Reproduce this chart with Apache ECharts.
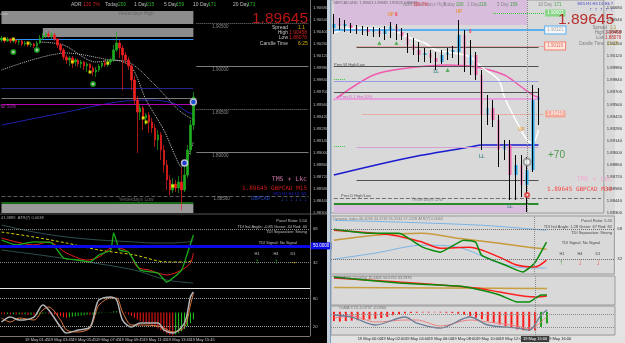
<!DOCTYPE html>
<html>
<head>
<meta charset="utf-8">
<title>GBPCAD M15 / M30</title>
<script src="https://cdn.jsdelivr.net/npm/echarts@6/dist/echarts.min.js"></script>
<style>
  html, body { margin: 0; padding: 0; background: #000; }
  #chart { width: 625px; height: 343px; }
</style>
</head>
<body>
<div id="chart"></div>
<script>
// ---------- left window: GBPCAD M15, [open, close, low, high]
var m15Bars = [
  [1.90306,1.90329,1.90283,1.90353],[1.90329,1.90295,1.90271,1.90341],[1.90295,1.90318,1.90283,1.90341],
  [1.90318,1.90295,1.90271,1.90329],[1.90295,1.90306,1.90271,1.90329],[1.90306,1.90283,1.90260,1.90318],
  [1.90283,1.90295,1.90248,1.90318],[1.90295,1.90260,1.90237,1.90306],[1.90260,1.90271,1.90237,1.90295],
  [1.90271,1.90248,1.90225,1.90283],[1.90248,1.90260,1.90225,1.90283],[1.90260,1.90237,1.90213,1.90271],
  [1.90237,1.90271,1.90225,1.90295],[1.90271,1.90329,1.90260,1.90364],[1.90329,1.90353,1.90306,1.90387],
  [1.90353,1.90376,1.90329,1.90399],[1.90376,1.90353,1.90329,1.90410],[1.90353,1.90364,1.90318,1.90399],
  [1.90364,1.90318,1.90295,1.90387],[1.90318,1.90248,1.90213,1.90329],[1.90248,1.90190,1.90155,1.90271],
  [1.90190,1.90109,1.90074,1.90213],[1.90109,1.90074,1.90028,1.90132],[1.90074,1.90097,1.90005,1.90121],
  [1.90097,1.90051,1.89981,1.90121],[1.90051,1.90074,1.90005,1.90097],[1.90074,1.90028,1.89993,1.90086],
  [1.90028,1.90051,1.89981,1.90074],[1.90051,1.90005,1.89958,1.90063],[1.90005,1.90028,1.89935,1.90051],
  [1.90028,1.89981,1.89923,1.90039],[1.89981,1.89935,1.89889,1.90005],[1.89935,1.89958,1.89877,1.89993],
  [1.89958,1.90005,1.89935,1.90028],[1.90005,1.90039,1.89981,1.90063],[1.90039,1.90016,1.89993,1.90074],
  [1.90016,1.90051,1.89993,1.90086],[1.90051,1.90074,1.90016,1.90097],[1.90074,1.90190,1.90051,1.90248],
  [1.90190,1.90271,1.90167,1.90399],[1.90271,1.90213,1.90097,1.90306],[1.90213,1.90132,1.89726,1.90248],
  [1.90132,1.90074,1.90028,1.90167],[1.90074,1.90005,1.89958,1.90109],[1.90005,1.89842,1.89726,1.90028],
  [1.89842,1.89610,1.89552,1.89889],[1.89610,1.89471,1.88996,1.89657],[1.89471,1.89518,1.89378,1.89564],
  [1.89518,1.89402,1.89262,1.89541],[1.89402,1.89437,1.89320,1.89460],[1.89437,1.89355,1.89228,1.89471],
  [1.89355,1.89286,1.89228,1.89402],[1.89286,1.89146,1.89065,1.89332],[1.89146,1.89204,1.89030,1.89262],
  [1.89204,1.89030,1.88914,1.89239],[1.89030,1.88857,1.88764,1.89088],[1.88857,1.88683,1.88567,1.88914],
  [1.88683,1.88567,1.88509,1.88741],[1.88567,1.88636,1.88532,1.88706],[1.88636,1.88590,1.88543,1.88683],
  [1.88590,1.88659,1.88532,1.88729],[1.88659,1.88567,1.88335,1.88822],[1.88567,1.88741,1.88543,1.88857],
  [1.88741,1.89030,1.88706,1.89088],[1.89030,1.89320,1.88972,1.89378],[1.89320,1.89645,1.89262,1.89703]
];
var m15Slots = 105;   // bars plus the empty shift space
var m15Ma200 = [[0,1.89320],[22,1.89471],[39,1.89587],[50,1.89610],[58,1.89576],[63,1.89471],[65,1.89448]];
var m15MaSlow = [[0,1.89958],[22,1.90155],[37,1.90074],[43,1.90051],[52,1.89784],[60,1.89494],[65,1.89378]];
var m15MaFast = [[13,1.90283],[21,1.90248],[32,1.90051],[38,1.90074],[44,1.89993],[49,1.89610],[55,1.89262],[59,1.88949],[61,1.88833],[63,1.88938],[65,1.89123]];
var m15YestHigh = [1.90642, 1.90492];
var m15YestHigh2 = [1.90445, 1.90341];
var m15YestLow = [1.88404, 1.88300];
var m15Lines = [1.90318, 1.89750, 1.89634, 1.89564, 1.88416];
var m15Round = [1.9050, 1.9000, 1.8950, 1.8900, 1.8850];
var m15Dots = [[1,1.90318],[4,1.90318],[9,1.90271],[24,1.90051],[30,1.89935],[36,1.90039],[48,1.89402],[49,1.89355],[58,1.88613]];
var m15Rings = [[4,1.90167],[12,1.90190],[31,1.89796]];
var m15Circles = [[62,1.88880],[65,1.89587]];
var bid = 1.89645;

// left TDI pane
var tdiBandUp = [[0,72.3],[11,64.8],[22,59.5],[33,56.3],[45,54.2],[51,53.1],[58,53.1],[63,54.2],[65,55.2]];
var tdiBandDn = [[0,45.6],[13,40.3],[29,32.8],[45,24.2],[56,13.5],[65,10.3]];
var tdiMbl = [[0,64.8],[11,59.5],[22,53.1],[33,45.6],[45,40.3],[56,32.8],[63,32.8],[65,34.9]];
var tdiSignal = [[0,58.4],[5,54.2],[11,51],[16,54.2],[22,42.4],[29,34.9],[33,38.1],[38,48.8],[43,43.5],[46,27.4],[50,24.2],[56,18.9],[61,24.2],[64,31.7],[65,42.4]];
var tdiRsi = [[0,56.3],[5,51],[11,54.2],[17,53.1],[21,37.1],[26,34.9],[30,32.8],[33,40.3],[37,45.6],[38,63.8],[40,45.6],[43,43.5],[47,24.2],[53,21],[56,11.4],[61,24.2],[63,42.4],[65,61.6]];

// left stochastic + OsMA pane
var stochMain = [[0,29.8],[3,40.4],[6,34],[11,40.4],[14,66],[16,55.3],[20,19.1],[22,6.4],[26,12.8],[30,19.1],[32,61.7],[33,76.6],[37,83],[39,76.6],[41,34],[44,19.1],[47,27.7],[53,27.7],[55,12.8],[58,6.4],[62,27.7],[64,83],[65,93.6]];
var stochSignal = [[0,38.3],[3,29.8],[6,38.3],[11,34],[14,55.3],[16,61.7],[20,34],[22,12.8],[26,8.5],[30,17],[32,51],[33,66],[37,80.9],[39,80.9],[41,51],[44,23.4],[47,23.4],[53,21.3],[55,17],[58,8.5],[62,19.1],[64,66],[65,91.5]];
var m15Osma = [-0.05,-0.07,-0.06,-0.08,-0.07,-0.09,-0.08,-0.10,-0.09,-0.11,
  -0.10,-0.12,-0.10,-0.07,-0.05,-0.03,-0.04,-0.05,-0.08,-0.12,
  -0.16,-0.20,-0.22,-0.20,-0.18,-0.16,-0.15,-0.13,-0.12,-0.10,
  -0.10,-0.08,-0.05,-0.03,-0.02,-0.01,0.01,0.02,0.04,0.05,
  0.03,0.00,-0.04,-0.08,-0.14,-0.22,-0.30,-0.36,-0.42,-0.46,
  -0.50,-0.56,-0.62,-0.68,-0.75,-0.82,-0.90,-0.96,-0.98,-0.94,
  -0.88,-0.80,-0.70,-0.58,-0.45,-0.30];

// ---------- right window: GBPCAD M30
var m30Bars = [
  [1.90445,1.90492,1.90376,1.90608],[1.90492,1.90468,1.90422,1.90561],[1.90468,1.90492,1.90399,1.90538],
  [1.90480,1.90445,1.90387,1.90503],[1.90445,1.90422,1.90376,1.90480],[1.90422,1.90434,1.90364,1.90468],
  [1.90434,1.90399,1.90353,1.90457],[1.90399,1.90410,1.90341,1.90457],[1.90410,1.90376,1.90341,1.90445],
  [1.90376,1.90422,1.90306,1.90468],[1.90422,1.90468,1.90329,1.90515],[1.90468,1.90399,1.90306,1.90492],
  [1.90399,1.90353,1.90306,1.90445],[1.90353,1.90248,1.90155,1.90387],[1.90248,1.90190,1.90132,1.90329],
  [1.90190,1.90132,1.90051,1.90283],[1.90132,1.90155,1.90051,1.90213],[1.90155,1.90097,1.90039,1.90190],
  [1.90097,1.90051,1.89958,1.90167],[1.90051,1.90132,1.90028,1.90190],[1.90132,1.90167,1.90074,1.90213],
  [1.90167,1.90190,1.90097,1.90237],[1.90167,1.90364,1.90016,1.90538],[1.90364,1.90016,1.89935,1.90422],
  [1.90016,1.90132,1.89900,1.90306],[1.90132,1.89900,1.89842,1.90167],[1.89900,1.89437,1.89030,1.89958],
  [1.89437,1.89518,1.89320,1.89668],[1.89518,1.89378,1.89297,1.89610],[1.89378,1.89030,1.88833,1.89437],
  [1.89030,1.89088,1.88914,1.89146],[1.89088,1.88741,1.88451,1.89146],[1.88741,1.88857,1.88451,1.88972],
  [1.88857,1.88625,1.88485,1.88972],[1.88625,1.88799,1.88312,1.88949],[1.88799,1.89610,1.88775,1.89784],
  [1.89610,1.89645,1.89320,1.89750]
];
var m30Slots = 48;
var m30Cursor = 34;
var m30MaPink = [[0,1.89610],[7,1.89900],[13,1.89981],[20,1.90016],[25,1.89993],[30,1.89900],[33,1.89761],[35,1.89668],[36,1.89645]];
var m30MaWhite = [[0,1.90387],[3,1.90445],[10,1.90422],[13,1.90341],[16,1.90271],[18,1.90190],[21,1.90155],[24,1.90109],[26,1.89993],[29,1.89842],[30,1.89645],[32,1.89378],[34,1.89146],[35,1.89112],[36,1.89262]];
var m30MaBlue = [[0,1.88741],[13,1.88938],[24,1.89065],[26,1.89088],[35,1.89088],[36,1.89088]];
var m30Zones = [[1.90770, 1.90480], [1.88393, 1.88300]];
var m30Levels = [1.90619, 1.90422, 1.90237, 1.90225, 1.90005, 1.89854, 1.89831, 1.89703, 1.89622, 1.89448, 1.89077, 1.89065, 1.88683, 1.88474, 1.88404];
var m30Tags = ['1.90603', '1.90321', '1.90119', '1.89410'];
var m30Signals = [[10,1.90596,'UP'],[11,1.90596,'8'],[22,1.90630,'UP'],[24,1.90399,'8'],[18,1.89935,'LL'],[26,1.88949,'LL'],[31,1.88370,'LL'],[33,1.89260,'UP']];
var m30Arrows = [[8,1.90271],[11,1.90271],[20,1.89958]];
var m30Circles = [[34,1.88891]];
var m30Rings = [[34,1.88509]];

var m30TdiUp = [[0,78.8],[12,76.4],[25,72.8],[36,66.8]];
var m30TdiDn = [[0,32],[7,39.2],[15,48.8],[21,46.4],[28,27.2],[33,21.2],[36,21.2]];
var m30TdiMid = [[0,54.8],[7,60.8],[15,63.2],[21,57.2],[28,51.2],[33,46.4],[36,44]];
var m30TdiSig = [[0,66.8],[10,60.8],[15,52.4],[18,45.2],[23,46.4],[28,34.4],[31,24.8],[34,22.4],[36,30.8]];
var m30TdiRsi = [[0,68],[6,63.2],[11,63.2],[15,46.4],[18,40.4],[22,54.8],[24,52.4],[25,36.8],[29,24.8],[32,16.4],[34,27.2],[36,52.4]];
var macdSlow = [[0,60],[36,57]];
var macdSignal = [[0,93],[11,79],[24,58.6],[28,44.8],[34,27.6],[36,31]];
var macdMain = [[0,96.6],[11,75.9],[21,65.5],[24,55.2],[28,34.5],[31,10.3],[33,10.3],[35,34.5],[36,34.5]];
var m30OsmaFall = [-0.40,-0.42,-0.40,-0.38,-0.36,-0.35,-0.33,-0.30,-0.27,-0.22,-0.15,-0.10,-0.07,-0.05,-0.04,-0.03,-0.03,-0.02,-0.03,-0.04,-0.05,-0.08,-0.12,-0.18,-0.25,-0.32,-0.40,-0.48,-0.55,-0.62,-0.70,-0.76,-0.80,-0.82,-0.80];
var m30OsmaRise = [[35,-0.65],[36,-0.50]];
var m30Osc = [[0,69],[3,62],[7,34.5],[12,62],[14,41],[18,24],[23,62],[26,34.5],[31,24],[33,17],[35,69],[36,86]];
var m30OscSig = [[0,58.6],[3,65.5],[7,44.8],[12,51.7],[14,51.7],[18,31],[23,51.7],[26,44.8],[31,31],[33,20.7],[35,44.8],[36,65.5]];

// time labels, MT4 style
function clock(startMin, step, slots) {
  var out = [];
  for (var i = 0; i < slots; i++) {
    var t = startMin + i * step;
    var m = t % 1440;
    out.push((18 + Math.floor(t / 1440)) + ' May ' + ('0' + Math.floor(m / 60)).slice(-2) + ':' + ('0' + m % 60).slice(-2));
  }
  return out;
}
var m15Times = clock(23 * 60 + 45, 15, m15Slots);
var m30Times = clock(22 * 60, 30, m30Slots);

var FONT = '"Liberation Sans", Arial, sans-serif';
var MONO = '"DejaVu Sans Mono", monospace';

// free text: [x, y, text, colour, size, align, family], laid out on a full-page overlay grid
function T(x, y, s, color, size, align, family) { return [x, y, s, color, size, align || 'left', family || FONT]; }
function box(x, y, w, h, color) {
  return { type: 'rect', silent: true, z: -1, shape: { x: x, y: y, width: w, height: h }, style: { fill: color } };
}
function rule(x1, y1, x2, y2, color) {
  return { type: 'line', silent: true, z: 60, shape: { x1: x1, y1: y1, x2: x2, y2: y2 }, style: { stroke: color, lineWidth: 1 } };
}
function seg(v, a, b, color, type, width, label) {
  var first = { coord: [a, v], lineStyle: { color: color, type: type || 'solid', width: width || 1 } };
  if (label) first.label = label;
  return [first, { coord: [b, v] }];
}
function tag(text, bg, fg, border) {
  return { show: true, position: 'end', formatter: text, backgroundColor: bg, color: fg, borderColor: border || bg,
    borderWidth: border ? 1 : 0, fontSize: 4.5, fontFamily: FONT, padding: [1, 2], distance: 1 };
}
function line(xi, yi, data, color, width, extra) {
  var s = { type: 'line', xAxisIndex: xi, yAxisIndex: yi, data: data, symbol: 'none', smooth: 0.3, silent: true, z: 4,
    lineStyle: { color: color, width: width || 1 } };
  for (var k in extra) s[k] = extra[k];
  return s;
}
function cat(grid, times, show, count, color, step) {
  return { type: 'category', gridIndex: grid, data: times, boundaryGap: true, show: show,
    axisLine: { show: false }, axisTick: { show: false },
    axisLabel: { show: show, interval: step, align: 'left', color: color, fontSize: 4, fontFamily: FONT, margin: 2,
      formatter: function (v, i) { return i < count ? v : ''; } } };
}
function val(grid, min, max, step, color, keep, fmt) {
  return { type: 'value', gridIndex: grid, position: 'right', min: min, max: max, interval: step,
    axisLine: { show: false }, axisTick: { show: false }, splitLine: { show: false },
    axisLabel: { show: !!keep, color: color, fontSize: 4.2, fontFamily: FONT, margin: 3, showMaxLabel: false,
      formatter: fmt || function (v) { return keep && keep.indexOf(v) >= 0 ? String(v) : ''; } } };
}
function price(v) { return v.toFixed(5); }
function dotted(v, color) { return { yAxis: v, lineStyle: { type: 'dotted', color: color, width: 1 } }; }

var chart = echarts.init(document.getElementById('chart'));

var leftLevels = [
  seg(m15Lines[0], 0, 65, '#2f8fff'),
  seg(m15Lines[1], 0, 65, '#25258e'),
  seg(m15Lines[2], 0, 66, '#7a7a7a'),
  seg(m15Lines[3], 0, 65, '#b400b4'),
  seg(m15Lines[4], 0, 65, '#1e8c1e', 'solid', 1.5)
];
m15Round.forEach(function (v, i) {
  var type = i === 4 ? 'dashed' : (i % 2 === 0 ? 'dotted' : 'solid');
  leftLevels.push(seg(v, i === 4 ? 0 : 66, 104, i === 4 ? '#5c5c5c' : '#7c7c7c', type, 1,
    { show: true, position: 'insideStartBottom', formatter: price(v), color: '#8a8a8a', fontSize: 4.5, fontFamily: FONT, distance: [i === 4 ? 212 : 16, 1] }));
});
leftLevels.push({ yAxis: bid, lineStyle: { opacity: 0 }, label: tag(price(bid), '#e4e4e4', '#000') });

var rightStyle = [
  ['#3cc83c', 'dotted', 1, 28, 37, tag(m30Tags[0], '#86d686', '#fff')],
  ['#5aaff0', 'solid', 2, 0, 37, tag(m30Tags[1], '#f6f6f6', '#a8a8a8', '#5aaff0')],
  ['#f08070', 'dotted', 1, 4, 37, tag(m30Tags[2], '#fde6de', '#e07060', '#f08070')],
  ['#505050', 'solid', 1, 4, 36], ['#505050', 'solid', 1, 0, 36], ['#3cc83c', 'dotted', 1, 0, 2],
  ['#9a9ae6', 'solid', 1, 0, 36], ['#505050', 'solid', 1, 0, 36], ['#e8a0dc', 'solid', 2, 0, 36],
  ['#f08070', 'dotted', 1, 5, 37, tag(m30Tags[3], '#f4a898', '#fff')],
  ['#3cc83c', 'dotted', 1, 0, 2], ['#d8a0d0', 'solid', 1, 4, 36], ['#505050', 'solid', 1, 4, 36],
  ['#707070', 'dashed', 1, 0, 47], ['#2a8a2a', 'solid', 2, 0, 36]
];
var rightLevels = m30Levels.map(function (v, i) {
  var s = rightStyle[i];
  return seg(v, s[3], s[4], s[0], s[1], s[2], s[5]);
});
rightLevels.push({ yAxis: bid, lineStyle: { opacity: 0 }, label: tag(price(bid), '#3a3a3a', '#fff') });
var cursor = { xAxis: m30Cursor, lineStyle: { type: 'dotted', color: '#8a8a8a', width: 1 } };

var sigColor = { 'UP': '#e8891a', '8': '#ff3030', 'LL': '#2a7a7a' };

var texts = [
  // left header
  T(71, 5, 'ADR', '#e0e0e0', 5), T(83, 5, '120 7%', '#ff2a2a', 5),
  T(105, 5, 'Today', '#e0e0e0', 5), T(118, 5, '200', '#39d339', 5),
  T(134, 5, '1 Day', '#e0e0e0', 5), T(146, 5, '215', '#39d339', 5),
  T(164, 5, '5 Day', '#e0e0e0', 5), T(176, 5, '159', '#39d339', 5),
  T(193, 5, '10 Day', '#e0e0e0', 5), T(208, 5, '171', '#39d339', 5),
  T(233, 5, '20 Day', '#e0e0e0', 5), T(247, 5, '173', '#39d339', 5),
  T(8, 14, 'Prev D HighLow', '#d8d8d8', 4, 'right'),
  T(136, 14, 'Yesterdays High', '#5e5e5e', 5, 'center'),
  T(308, 19, '1.89645', '#e81c1c', 15.5, 'right'),
  T(288, 28, 'Spread', '#e8e8e8', 5, 'right'), T(298, 28, '1.1', '#ffd700', 5),
  T(288, 33, 'High', '#e8e8e8', 5, 'right'), T(289, 33, '1.90458', '#ff2a2a', 5),
  T(288, 38, 'Low', '#e8e8e8', 5, 'right'), T(289, 38, '1.88076', '#ff2a2a', 5),
  T(288, 44, 'Candle Time', '#e8e8e8', 5, 'right'), T(298, 44, '6:25', '#ffd700', 5),
  T(16, 107, 'Prev D 1 Hor 50%', '#d040d0', 4.5, 'right'),
  T(307, 179, 'TMS + Lkc', '#ff8fd0', 6.5, 'right', MONO),
  T(307, 188, '1.89645 GBPCAD M15', '#ff2222', 6, 'right', MONO),
  T(307, 194, 'M15 H1 H4 D1 W1', '#2a2aff', 4, 'right'),
  T(270, 199, 'GBPCAD', '#2a5aff', 4.5, 'right'),
  T(307, 199, '\u2193 \u2193 \u2193 \u2193 \u2193 \u2193', '#2a5aff', 6, 'right'),
  T(136, 200, 'Yesterdays Low', '#7a7a7a', 5, 'center'),

  // left TDI texts
  T(1, 218, '41.3889  ATR(7) 0.0038', '#d0d0d0', 4),
  T(307, 221, 'Panel Ratio: 5.50', '#e0e0e0', 4, 'right'),
  T(307, 227, 'TDI Ital Angle: -0.85 Green: 44 Red: 40', '#e0e0e0', 4, 'right'),
  T(307, 232, 'TDI Separation: Strong', '#e0e0e0', 4, 'right'),
  T(297, 243, 'TDI Signal: No Signal', '#e0e0e0', 4, 'right'),
  T(257, 254, 'H1', '#e0e0e0', 4, 'center'), T(276, 254, 'H4', '#e0e0e0', 4, 'center'), T(293, 254, 'D1', '#e0e0e0', 4, 'center'),
  T(257, 262, '\u2191', '#22bb22', 8, 'center'), T(276, 262, '\u2191', '#22bb22', 8, 'center'), T(293, 262, '\u2192', '#ffee00', 8, 'center'),

  // right header
  T(333, 3, 'GBPCAD,M30  1.89663 1.89685 1.89620 1.89645', '#555', 3.8),
  T(430, 5, 'Yesterdays High', '#8a7a8a', 4.5, 'center'),
  T(403, 5, 'ADR', '#777', 4.5), T(413, 5, '120.7%', '#e02020', 4.5),
  T(443, 5, 'Today', '#777', 4.5), T(456, 5, '200', '#229922', 4.5),
  T(467, 5, '1 Day', '#777', 4.5), T(479, 5, '218', '#229922', 4.5),
  T(497, 5, '5 Day', '#777', 4.5), T(510, 5, '159', '#229922', 4.5),
  T(538, 5, '10 Day', '#777', 4.5), T(554, 5, '171', '#229922', 4.5),
  T(613, 4, 'M15 H1 H4 D1 Bk ?', '#1515c8', 4, 'right'),
  T(613, 10, '\u2191  \u2191  \u2191  \u2191  \u2191', '#1515c8', 5, 'right'),
  T(614, 20, '1.89645', '#b00000', 15.5, 'right'),
  T(607, 28, 'Spread', '#666', 4.5, 'right'), T(610, 28, '1.1', '#a08000', 4.5),
  T(604, 33, 'High', '#666', 4.5, 'right'), T(605, 33, '1.90458', '#c00000', 4.5),
  T(604, 38, 'Low', '#666', 4.5, 'right'), T(605, 38, '1.88076', '#c00000', 4.5),
  T(604, 44, 'Candle Time', '#666', 4.5, 'right'), T(607, 44, '21:25', '#a08000', 4.5),
  T(334, 65, 'Prev W High/Low', '#333', 4),
  T(340, 97, 'Prev D 1 Hor 50%', '#d040c0', 4),
  T(548, 155, '+70', '#2a8a2a', 10),
  T(612, 179, 'TMS + Lkc', '#ff9ad2', 6.5, 'right', MONO),
  T(612, 189, '1.89645 GBPCAD M30', '#ff2020', 6, 'right', MONO),
  T(341, 196, 'Prev D High/Low', '#333', 4),
  T(427, 200, 'Yesterdays Low', '#777', 4.5, 'center'),

  // right indicator texts
  T(333, 219, 'Dynamic Index 66.4096 44.4749 55.3144 57.5228 ATR(7) 0.0063', '#666', 3.8),
  T(612, 221, 'Panel Ratio: 5.20', '#222', 4, 'right'),
  T(612, 227, 'TDI Ital Angle: 1.28 Green: 67 Red: 82', '#222', 4, 'right'),
  T(612, 233, 'TDI Separation: Strong', '#222', 4, 'right'),
  T(600, 243, 'TDI Signal: No Signal', '#222', 4, 'right'),
  T(562, 254, 'H1', '#222', 4, 'center'), T(580, 254, 'H4', '#222', 4, 'center'), T(598, 254, 'D1', '#222', 4, 'center'),
  T(561, 263, '\u2191', '#2a9a2a', 8, 'center'), T(580, 263, '\u2193', '#ff2020', 8, 'center'), T(598, 263, '\u2193', '#ff2020', 8, 'center'),
  T(333, 278, 'TDI MACD 2 0.0454 15.6605 56.6762 43.2876', '#555', 3.8),
  T(339, 308, 'OsMA 3 10 -0.0757 -0.0964', '#555', 3.8)
];

option = {
  backgroundColor: '#000',
  animation: false,
  textStyle: { fontFamily: FONT },
  grid: [
    { left: 0, top: 0, width: 310, height: 213 },
    { left: 0, top: 215, width: 310, height: 73 },
    { left: 0, top: 289, width: 310, height: 47 },
    { left: 331, top: 0, width: 284, height: 213, show: true, borderColor: '#9a9a9a', borderWidth: 1 },
    { left: 331, top: 216, width: 284, height: 58, show: true, borderColor: '#9a9a9a', borderWidth: 1 },
    { left: 331, top: 276, width: 284, height: 29, show: true, borderColor: '#9a9a9a', borderWidth: 1 },
    { left: 331, top: 306, width: 284, height: 29, show: true, borderColor: '#9a9a9a', borderWidth: 1 },
    { left: 0, top: 0, width: 625, height: 343 }
  ],
  xAxis: [
    cat(0, m15Times, false, 66), cat(1, m15Times, false, 66), cat(2, m15Times, true, 66, '#d0d0d0', 7),
    cat(3, m30Times, false, 37), cat(4, m30Times, false, 37), cat(5, m30Times, false, 37), cat(6, m30Times, true, 37, '#202020', 3),
    { type: 'value', gridIndex: 7, min: 0, max: 625, show: false }
  ],
  yAxis: [
    val(0, 1.8830, 1.9077, 0.0014, '#bdbdbd', true, price),
    val(1, 5, 83, 1, '#bdbdbd', [32, 68]),
    val(2, 0, 100, 10, '#bdbdbd', [20, 80]),
    val(2, -1, 1, 0.5, '#bdbdbd', false),
    val(3, 1.8830, 1.9077, 0.0014, '#333', true, price),
    val(4, 14, 84, 2, '#333', [32, 68]),
    val(5, 0, 100, 10, '#333', false),
    val(6, 0, 100, 10, '#333', false),
    val(6, -1, 0.25, 0.25, '#333', false),
    { type: 'value', gridIndex: 7, min: 0, max: 343, inverse: true, show: false }
  ],
  series: [
    // ----- left price pane
    { type: 'candlestick', xAxisIndex: 0, yAxisIndex: 0, data: m15Bars, barWidth: 2, silent: true, z: 5,
      itemStyle: { color: '#1faa1f', color0: '#ee2020', borderColor: '#1faa1f', borderColor0: '#ee2020', borderWidth: 0.7 },
      markArea: { silent: true, data: [
        [{ coord: [0, m15YestHigh[0]], itemStyle: { color: '#8c8c8c' } }, { coord: [65, m15YestHigh[1]] }],
        [{ coord: [14, m15YestHigh2[0]], itemStyle: { color: '#8c8c8c' } }, { coord: [65, m15YestHigh2[1]] }],
        [{ coord: [0, m15YestLow[0]], itemStyle: { color: '#9a9a9a' } }, { coord: [65, m15YestLow[1]] }]
      ] },
      markLine: { silent: true, symbol: ['none', 'none'], label: { show: false }, data: leftLevels } },
    line(0, 0, m15Ma200, '#2020b0', 1),
    line(0, 0, m15MaSlow, '#bdbdbd', 1, { lineStyle: { color: '#bdbdbd', width: 1, type: 'dotted' } }),
    line(0, 0, m15MaFast, '#cfcfcf', 1, { lineStyle: { color: '#cfcfcf', width: 1, type: 'dotted' } }),
    { type: 'scatter', xAxisIndex: 0, yAxisIndex: 0, data: m15Dots, symbol: 'rect', symbolSize: 3, itemStyle: { color: '#ffff00' }, silent: true, z: 6 },
    { type: 'scatter', xAxisIndex: 0, yAxisIndex: 0, data: m15Rings, symbol: 'emptyCircle', symbolSize: 4, itemStyle: { color: '#1faa1f', borderWidth: 1 }, silent: true, z: 6 },
    { type: 'scatter', xAxisIndex: 0, yAxisIndex: 0, data: m15Circles, symbol: 'circle', symbolSize: 6, itemStyle: { color: '#2040ff', borderColor: '#e0e0e0', borderWidth: 1.5 }, silent: true, z: 6 },

    // ----- left TDI pane
    line(1, 1, tdiBandUp, '#2f4f4f', 1, { markLine: { silent: true, symbol: ['none', 'none'], label: { show: false }, data: [
      dotted(68, '#8a8a8a'), dotted(32, '#8a8a8a'),
      { yAxis: 50, lineStyle: { color: '#0a0ae6', width: 3, type: 'solid' }, label: tag('50.0000', '#0a0ae6', '#fff') }
    ] } }),
    line(1, 1, tdiBandDn, '#2f4f4f', 1),
    line(1, 1, tdiMbl, '#d4d400', 1, { lineStyle: { color: '#d4d400', width: 1, type: [3, 2] } }),
    line(1, 1, tdiSignal, '#ee1c1c', 1),
    line(1, 1, tdiRsi, '#18b018', 1.3, { smooth: 0.15 }),

    // ----- left stochastic / OsMA pane
    { type: 'bar', xAxisIndex: 2, yAxisIndex: 3, data: m15Osma, barWidth: 1, silent: true, z: 3,
      itemStyle: { color: function (p) { return p.dataIndex > 0 && m15Osma[p.dataIndex] > m15Osma[p.dataIndex - 1] ? '#22cc22' : '#ff1a1a'; } } },
    line(2, 2, stochSignal, '#e0783c', 1, { markLine: { silent: true, symbol: ['none', 'none'], label: { show: false }, data: [dotted(80, '#9a9a9a'), dotted(20, '#9a9a9a')] } }),
    line(2, 2, stochMain, '#b4b4b4', 1.5),

    // ----- right price pane
    { type: 'candlestick', xAxisIndex: 3, yAxisIndex: 4, data: m30Bars, barWidth: 3, silent: true, z: 5,
      itemStyle: { color: '#2aa7e8', color0: '#f06ab0', borderColor: 'rgba(0,0,0,0)', borderColor0: 'rgba(0,0,0,0)', borderWidth: 0 },
      markArea: { silent: true, data: m30Zones.map(function (z) {
        return [{ coord: [0, z[0]], itemStyle: { color: '#d8bedc' } }, { coord: [34, z[1]] }];
      }) },
      markLine: { silent: true, symbol: ['none', 'none'], label: { show: false }, data: rightLevels.concat([cursor]) } },
    { type: 'candlestick', xAxisIndex: 3, yAxisIndex: 4, data: m30Bars, barWidth: 1, silent: true, z: 6,
      itemStyle: { color: '#000', color0: '#000', borderColor: '#000', borderColor0: '#000', borderWidth: 1 } },
    line(3, 4, m30MaPink, '#f05ab0', 1.5),
    line(3, 4, m30MaWhite, '#ffffff', 1.5),
    line(3, 4, m30MaBlue, '#1a1ad0', 1.5),
    { type: 'scatter', xAxisIndex: 3, yAxisIndex: 4, silent: true, z: 7, symbolSize: 1,
      data: m30Signals.map(function (s) { return { value: [s[0], s[1]], name: s[2] }; }),
      label: { show: true, position: 'inside', fontSize: 4.5, fontWeight: 'bold', fontFamily: FONT,
        formatter: function (p) { return p.name; }, color: 'inherit' },
      itemStyle: { color: function (p) { return sigColor[p.name]; } } },
    { type: 'scatter', xAxisIndex: 3, yAxisIndex: 4, data: m30Arrows, symbol: 'triangle', symbolSize: 4, itemStyle: { color: '#3aa03a' }, silent: true, z: 7 },
    { type: 'scatter', xAxisIndex: 3, yAxisIndex: 4, data: m30Circles, symbol: 'emptyCircle', symbolSize: 7, itemStyle: { color: '#8a8a8a', borderWidth: 1 }, silent: true, z: 7 },
    { type: 'scatter', xAxisIndex: 3, yAxisIndex: 4, data: m30Rings, symbol: 'emptyCircle', symbolSize: 4, itemStyle: { color: '#e03030', borderWidth: 1 }, silent: true, z: 7 },

    // ----- right TDI pane
    line(4, 5, m30TdiUp, '#79b4e6', 1, { markLine: { silent: true, symbol: ['none', 'none'], label: { show: false }, data: [dotted(68, '#6a6a6a'), dotted(32, '#6a6a6a'), cursor] } }),
    line(4, 5, m30TdiDn, '#79b4e6', 1),
    line(4, 5, m30TdiMid, '#c79a3c', 1.5),
    line(4, 5, m30TdiSig, '#ff1a1a', 1.5),
    line(4, 5, m30TdiRsi, '#0a8a0a', 1.5, { smooth: 0.15 }),

    // ----- right MACD pane
    line(5, 6, macdSlow, '#c9a040', 1.5, { markLine: { silent: true, symbol: ['none', 'none'], label: { show: false }, data: [cursor] } }),
    line(5, 6, macdSignal, '#ff2020', 1.5),
    line(5, 6, macdMain, '#0a8a0a', 1.5, { smooth: 0.15 }),

    // ----- right OsMA pane
    { type: 'bar', xAxisIndex: 6, yAxisIndex: 8, data: m30OsmaFall, barWidth: 2, barGap: '-100%', silent: true, z: 3, itemStyle: { color: '#ff1a1a' } },
    { type: 'bar', xAxisIndex: 6, yAxisIndex: 8, data: m30OsmaRise, barWidth: 2, barGap: '-100%', silent: true, z: 3, itemStyle: { color: '#1aa01a' } },
    line(6, 7, m30OscSig, '#f08080', 1, { markLine: { silent: true, symbol: ['none', 'none'], label: { show: false }, data: [
      dotted(70, '#8a8a8a'), dotted(28, '#8a8a8a'),
      { xAxis: m30Cursor, lineStyle: { type: 'dotted', color: '#8a8a8a', width: 1 },
        label: { show: true, position: 'start', formatter: m30Times[m30Cursor], backgroundColor: '#3c3c3c', color: '#fff', fontSize: 4, fontFamily: FONT, padding: [1, 2], distance: 1 } }
    ] } }),
    line(6, 7, m30Osc, '#6e7e98', 1.3),

    // ----- text overlay
    { type: 'scatter', xAxisIndex: 7, yAxisIndex: 9, symbolSize: 1, silent: true, z: 50,
      itemStyle: { color: 'rgba(0,0,0,0)' },
      data: texts.map(function (t) {
        return { value: [t[0], t[1]], name: t[2],
          label: { color: t[3], fontSize: t[4], align: t[5], fontFamily: t[6] } };
      }),
      label: { show: true, position: 'inside', verticalAlign: 'middle', fontWeight: 'normal',
        formatter: function (p) { return p.name; } } }
  ],
  graphic: [
    // right window background and frames
    box(327, 0, 298, 343, '#d9d9d9'),
    box(327, 0, 4, 343, '#c3cfdb'),
    box(615, 0, 10, 343, '#e4e4e4'),
    box(331, 336, 294, 7, '#e2e2e2'),
    rule(330.5, 0, 330.5, 343, '#7a9cc0'),
    rule(310.5, 0, 310.5, 336, '#777'),
    rule(0, 214, 327, 214, '#555'),
    rule(0, 288.5, 310, 288.5, '#e8e8e8'),
    rule(0, 336.5, 310, 336.5, '#777')
  ]
};

chart.setOption(option);
</script>
</body>
</html>
